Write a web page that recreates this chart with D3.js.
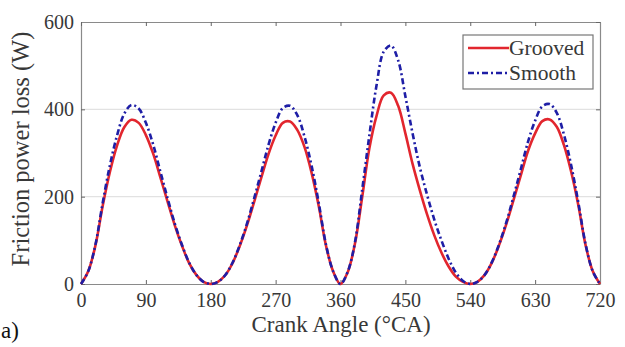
<!DOCTYPE html>
<html>
<head>
<meta charset="utf-8">
<script src="https://cdn.jsdelivr.net/npm/d3@7"></script>
<style>
  html, body { margin: 0; padding: 0; background: #fff; }
  svg { display: block; }
  text { font-family: "Liberation Serif", "DejaVu Serif", serif; }
</style>
</head>
<body>
<svg id="chart" width="625" height="347"></svg>
<script>
// Crank angle samples (°CA), every 10 degrees over the 720° cycle
const crankAngle = d3.range(0, 721, 10);

// Friction power loss (W) for the grooved liner
const grooved = [
  0, 29, 88, 178, 256, 317, 359, 376, 369, 341, 299, 245, 189, 135, 88, 48, 21, 5,
  0, 5, 20, 47, 86, 133, 187, 243, 297, 340, 369, 372, 353, 314, 254, 177, 87, 28,
  0, 27, 92, 198, 310, 385, 432, 438, 408, 345, 275, 215, 160, 112, 72, 40, 17, 5,
  0, 5, 21, 49, 89, 137, 192, 248, 304, 345, 373, 377, 360, 318, 257, 180, 89, 29, 0
];

// Friction power loss (W) for the smooth liner
const smooth = [
  0, 29, 90, 185, 271, 340, 390, 410, 402, 369, 320, 258, 197, 139, 90, 49, 21, 5,
  0, 5, 20, 48, 88, 137, 195, 256, 318, 369, 403, 408, 387, 338, 270, 184, 89, 28,
  0, 28, 95, 215, 340, 455, 532, 546, 512, 430, 345, 268, 205, 148, 100, 58, 26, 7,
  0, 5, 21, 50, 91, 141, 200, 262, 325, 374, 407, 412, 392, 342, 272, 186, 91, 29, 0
];

const xTicks = [0, 90, 180, 270, 360, 450, 540, 630, 720];
const yTicks = [0, 200, 400, 600];
const seriesNames = ["Grooved", "Smooth"];

const svg = d3.select("#chart");
const plotL = 81, plotR = 600, plotT = 22, plotB = 284;

const x = d3.scaleLinear().domain([0, 720]).range([plotL, plotR]);
const y = d3.scaleLinear().domain([0, 600]).range([plotB, plotT]);

const axisColor = "#8a8a8a";
const textColor = "#383838";

// horizontal grid
svg.append("g")
  .selectAll("line")
  .data(yTicks.filter(v => v > 0 && v < 600))
  .join("line")
  .attr("x1", plotL).attr("x2", plotR)
  .attr("y1", d => y(d)).attr("y2", d => y(d))
  .attr("stroke", "#e2e2e2").attr("stroke-width", 1.2);

// axes with inward ticks
const gx = svg.append("g").attr("transform", `translate(0,${plotB})`)
  .call(d3.axisBottom(x).tickValues(xTicks).tickSizeInner(-4).tickSizeOuter(0).tickPadding(9));
const gy = svg.append("g").attr("transform", `translate(${plotL},0)`)
  .call(d3.axisLeft(y).tickValues(yTicks).tickSizeInner(-4).tickSizeOuter(0).tickPadding(7));
const gxt = svg.append("g").attr("transform", `translate(0,${plotT})`)
  .call(d3.axisTop(x).tickValues(xTicks).tickSizeInner(-4).tickSizeOuter(0).tickFormat(""));
const gyr = svg.append("g").attr("transform", `translate(${plotR},0)`)
  .call(d3.axisRight(y).tickValues(yTicks).tickSizeInner(-4).tickSizeOuter(0).tickFormat(""));

[gx, gy, gxt, gyr].forEach(g => {
  g.select(".domain").attr("stroke", axisColor).attr("stroke-width", 1.2);
  g.selectAll(".tick line").attr("stroke", "#666").attr("stroke-width", 1);
  g.selectAll(".tick text").attr("fill", textColor)
    .style("font-family", "'Liberation Serif', serif").style("font-size", "20px");
});

// series lines
const line = d3.line()
  .x((d, i) => x(crankAngle[i]))
  .y(d => y(d))
  .curve(d3.curveCatmullRom.alpha(0.5));

svg.append("path").datum(grooved)
  .attr("d", line).attr("fill", "none")
  .attr("stroke", "#e2262e").attr("stroke-width", 2.6)
  .attr("stroke-linejoin", "round");

svg.append("path").datum(smooth)
  .attr("d", line).attr("fill", "none")
  .attr("stroke", "#1e1ea6").attr("stroke-width", 2.6)
  .attr("stroke-dasharray", "6,3,2,3")
  .attr("stroke-linejoin", "round");

// legend
const lg = svg.append("g");
lg.append("rect").attr("x", 463).attr("y", 35).attr("width", 130).attr("height", 54)
  .attr("fill", "#fff").attr("stroke", "#777").attr("stroke-width", 1.2);
const legendItems = [
  { name: seriesNames[0], color: "#e2262e", dash: null },
  { name: seriesNames[1], color: "#1e1ea6", dash: "6,3,2,3" }
];
legendItems.forEach((it, i) => {
  const cy = 48 + i * 25;
  lg.append("line").attr("x1", 468).attr("x2", 509).attr("y1", cy).attr("y2", cy)
    .attr("stroke", it.color).attr("stroke-width", 2.6)
    .attr("stroke-dasharray", it.dash);
  lg.append("text").attr("x", 509).attr("y", cy + 7)
    .attr("fill", textColor).style("font-size", "21.5px").text(it.name);
});

// axis titles
svg.append("text").attr("x", 341).attr("y", 332)
  .attr("text-anchor", "middle").attr("fill", textColor)
  .style("font-size", "23px").text("Crank Angle (°CA)");

svg.append("text")
  .attr("transform", `translate(29,${(plotT + plotB) / 2 - 4}) rotate(-90)`)
  .attr("text-anchor", "middle").attr("fill", textColor)
  .style("font-size", "24.5px").text("Friction power loss (W)");

// panel label
svg.append("text").attr("x", 1).attr("y", 338)
  .attr("fill", "#111").style("font-size", "23px").text("a)");
</script>
</body>
</html>
